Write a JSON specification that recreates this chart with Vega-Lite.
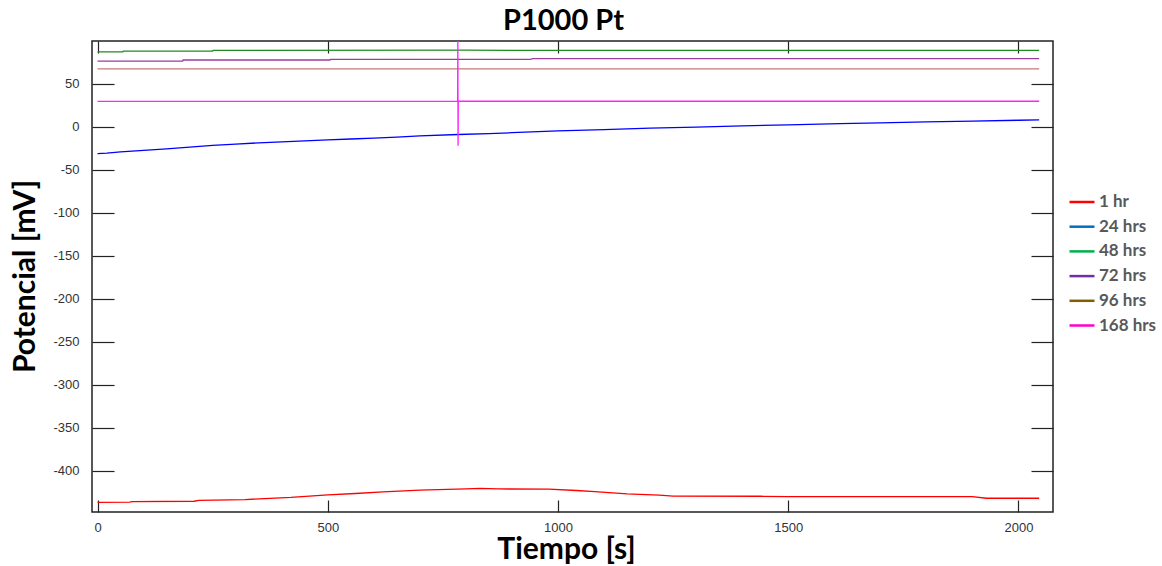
{
  "$schema": "https://vega.github.io/schema/vega-lite/v6.json",
  "width": 961,
  "height": 471,
  "autosize": "none",
  "padding": {"left": 92, "top": 41, "right": 109, "bottom": 54},
  "background": "white",
  "title": {"text": "P1000 Pt", "font": "Lato", "fontSize": 29, "fontWeight": "bold", "color": "black", "anchor": "middle", "offset": 12, "dx": -9, "dy": 8},
  "config": {
    "view": {"stroke": "#222", "strokeWidth": 1.5},
    "axis": {"grid": false, "domain": false, "tickColor": "#222", "tickWidth": 1.2, "labelFont": "Liberation Sans", "labelFontSize": 13, "labelColor": "#333"}
  },
  "data": {"values": [
    {"series": "1 hr", "t": 0, "v": -436.7},
    {"series": "1 hr", "t": 70, "v": -436.5},
    {"series": "1 hr", "t": 75, "v": -436},
    {"series": "1 hr", "t": 210, "v": -435.5},
    {"series": "1 hr", "t": 220, "v": -434.5},
    {"series": "1 hr", "t": 320, "v": -433.5},
    {"series": "1 hr", "t": 420, "v": -431},
    {"series": "1 hr", "t": 500, "v": -428},
    {"series": "1 hr", "t": 560, "v": -426.5},
    {"series": "1 hr", "t": 620, "v": -424.5},
    {"series": "1 hr", "t": 700, "v": -422.5},
    {"series": "1 hr", "t": 800, "v": -421.2},
    {"series": "1 hr", "t": 830, "v": -420.6},
    {"series": "1 hr", "t": 870, "v": -421.2},
    {"series": "1 hr", "t": 980, "v": -421.3},
    {"series": "1 hr", "t": 1040, "v": -423},
    {"series": "1 hr", "t": 1080, "v": -424.3},
    {"series": "1 hr", "t": 1150, "v": -426.8},
    {"series": "1 hr", "t": 1220, "v": -428.3},
    {"series": "1 hr", "t": 1250, "v": -429.5},
    {"series": "1 hr", "t": 1440, "v": -429.7},
    {"series": "1 hr", "t": 1500, "v": -430},
    {"series": "1 hr", "t": 1900, "v": -430.2},
    {"series": "1 hr", "t": 1930, "v": -432},
    {"series": "1 hr", "t": 2045, "v": -432},
    {"series": "24 hrs", "t": 0, "v": -31},
    {"series": "24 hrs", "t": 20, "v": -30.5},
    {"series": "24 hrs", "t": 50, "v": -29},
    {"series": "24 hrs", "t": 100, "v": -27.3},
    {"series": "24 hrs", "t": 150, "v": -25.5},
    {"series": "24 hrs", "t": 200, "v": -23.5},
    {"series": "24 hrs", "t": 250, "v": -21.5},
    {"series": "24 hrs", "t": 300, "v": -20},
    {"series": "24 hrs", "t": 350, "v": -18.5},
    {"series": "24 hrs", "t": 400, "v": -17.3},
    {"series": "24 hrs", "t": 450, "v": -16.2},
    {"series": "24 hrs", "t": 500, "v": -15},
    {"series": "24 hrs", "t": 550, "v": -14},
    {"series": "24 hrs", "t": 600, "v": -13},
    {"series": "24 hrs", "t": 650, "v": -11.8},
    {"series": "24 hrs", "t": 700, "v": -10.5},
    {"series": "24 hrs", "t": 783, "v": -8.8},
    {"series": "24 hrs", "t": 850, "v": -7.8},
    {"series": "24 hrs", "t": 900, "v": -6.7},
    {"series": "24 hrs", "t": 1000, "v": -4.6},
    {"series": "24 hrs", "t": 1100, "v": -3},
    {"series": "24 hrs", "t": 1200, "v": -1.3},
    {"series": "24 hrs", "t": 1300, "v": -0.2},
    {"series": "24 hrs", "t": 1400, "v": 1.2},
    {"series": "24 hrs", "t": 1500, "v": 2.5},
    {"series": "24 hrs", "t": 1612, "v": 3.9},
    {"series": "24 hrs", "t": 1700, "v": 4.8},
    {"series": "24 hrs", "t": 1800, "v": 5.8},
    {"series": "24 hrs", "t": 1900, "v": 6.8},
    {"series": "24 hrs", "t": 2000, "v": 7.8},
    {"series": "24 hrs", "t": 2045, "v": 8.2},
    {"series": "48 hrs", "t": 0, "v": 87.3},
    {"series": "48 hrs", "t": 55, "v": 87.3},
    {"series": "48 hrs", "t": 56, "v": 88.2},
    {"series": "48 hrs", "t": 250, "v": 88.2},
    {"series": "48 hrs", "t": 251, "v": 89.1},
    {"series": "48 hrs", "t": 800, "v": 89.3},
    {"series": "48 hrs", "t": 1000, "v": 89.1},
    {"series": "48 hrs", "t": 2045, "v": 89.1},
    {"series": "72 hrs", "t": 0, "v": 76.7},
    {"series": "72 hrs", "t": 185, "v": 76.7},
    {"series": "72 hrs", "t": 186, "v": 77.9},
    {"series": "72 hrs", "t": 505, "v": 77.9},
    {"series": "72 hrs", "t": 506, "v": 78.7},
    {"series": "72 hrs", "t": 940, "v": 78.7},
    {"series": "72 hrs", "t": 945, "v": 79.4},
    {"series": "72 hrs", "t": 2045, "v": 79.6},
    {"series": "96 hrs", "t": 0, "v": 67.5},
    {"series": "96 hrs", "t": 2045, "v": 67.5},
    {"series": "168 hrs", "t": 0, "v": 29.8},
    {"series": "168 hrs", "t": 782, "v": 29.9},
    {"series": "168 hrs", "t": 782.5, "v": 100},
    {"series": "168 hrs", "t": 783, "v": -22},
    {"series": "168 hrs", "t": 783.5, "v": 29.9},
    {"series": "168 hrs", "t": 2045, "v": 29.9}
  ]},
  "layer": [
    {
      "mark": {"type": "line", "strokeWidth": 1.3, "clip": true, "interpolate": "linear"},
      "encoding": {
        "x": {"field": "t", "type": "quantitative", "scale": {"domain": [-12, 2075], "nice": false, "zero": false},
              "axis": {"orient": "bottom", "values": [0, 500, 1000, 1500, 2000], "labelExpr": "toString(datum.value)", "tickSize": -12, "labelPadding": 21, "title": "Tiempo [s]", "titleFont": "Lato", "titleFontSize": 30, "titleFontWeight": "bold", "titleColor": "black", "titleX": 474, "titleY": 46, "titleBaseline": "alphabetic", "titleAlign": "center"}},
        "y": {"field": "v", "type": "quantitative", "scale": {"domain": [-448, 100], "nice": false, "zero": false},
              "axis": {"orient": "left", "values": [-400, -350, -300, -250, -200, -150, -100, -50, 0, 50], "labelExpr": "toString(datum.value)", "tickSize": -22, "labelPadding": 35, "title": "Potencial [mV]", "titleFont": "Lato", "titleFontSize": 30, "titleFontWeight": "bold", "titleColor": "black", "titleX": -58, "titleY": 235, "titleAngle": -90, "titleBaseline": "alphabetic", "titleAlign": "center"}},
        "color": {"field": "series", "type": "nominal",
                  "scale": {"domain": ["1 hr", "24 hrs", "48 hrs", "72 hrs", "96 hrs", "168 hrs"], "range": ["#ff0000", "#0000ff", "#1f8a1f", "#9c3c9c", "#c47a7a", "#ff22ff"]},
                  "legend": null}
      }
    },
    {
      "transform": [{"filter": "datum.t < -100"}],
      "mark": {"type": "line", "strokeWidth": 2.5},
      "encoding": {
        "x": {"field": "t", "type": "quantitative", "axis": null},
        "y": {"field": "v", "type": "quantitative", "axis": null},
        "color": {"field": "series", "type": "nominal",
                  "scale": {"domain": ["1 hr", "24 hrs", "48 hrs", "72 hrs", "96 hrs", "168 hrs"], "range": ["#ff0000", "#0070c0", "#00b050", "#7030a0", "#7f6000", "#ff00cc"]},
                  "legend": {"orient": "none", "legendX": 976, "legendY": 147, "title": null, "symbolType": "stroke", "symbolSize": 625, "symbolStrokeWidth": 2.5, "labelFont": "Lato", "labelFontSize": 17, "labelFontWeight": "bold", "labelColor": "#595959", "rowPadding": 2.7, "labelOffset": 3, "padding": 0}}
      }
    },
    {
      "transform": [{"filter": "datum.t < -100"}],
      "mark": {"type": "rule"},
      "encoding": {
        "x": {"field": "t", "type": "quantitative", "axis": {"orient": "top", "values": [0, 500, 1000, 1500, 2000], "tickSize": -12, "labels": false, "title": null}},
        "y": {"field": "v", "type": "quantitative", "axis": {"orient": "right", "values": [-400, -350, -300, -250, -200, -150, -100, -50, 0, 50], "tickSize": -22, "labels": false, "title": null}}
      }
    }
  ],
  "resolve": {"scale": {"color": "independent"}, "axis": {"x": "independent", "y": "independent"}}
}
